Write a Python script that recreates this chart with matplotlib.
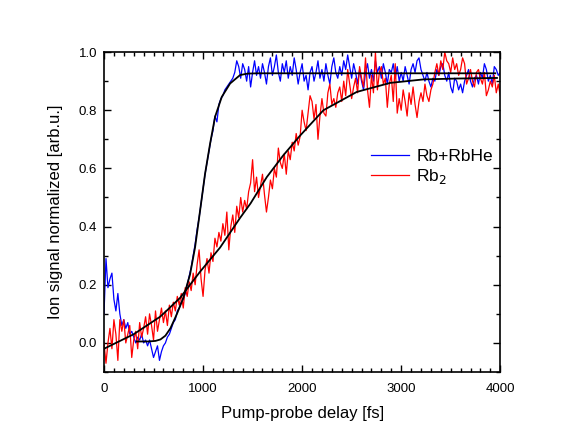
import matplotlib
matplotlib.use("Agg")
import matplotlib.pyplot as plt
import numpy as np
from matplotlib.ticker import MultipleLocator

plt.rcParams['font.family'] = ['Liberation Sans', 'DejaVu Sans']

# Datos: retardo en fs (paso de 20 fs)
delay = np.arange(0, 4001, 20)

rbhe = [
    0.10, 0.29, 0.19, 0.22, 0.24, 0.15, 0.11, 0.17, 0.10, 0.06,
    0.08, 0.05, 0.07, 0.03, 0.04, 0.02, 0.00, 0.02, 0.01, 0.03,
    0.00, 0.01, -0.01, 0.01, -0.02, -0.05, -0.03, -0.01, -0.06, -0.03,
    -0.01, 0.00, 0.02, 0.03, 0.05, 0.07, 0.08, 0.11, 0.12, 0.14,
    0.15, 0.17, 0.20, 0.23, 0.26, 0.30, 0.34, 0.39, 0.43, 0.48,
    0.53, 0.58, 0.62, 0.66, 0.70, 0.73, 0.78, 0.76, 0.82, 0.84,
    0.85, 0.87, 0.88, 0.89, 0.90, 0.91, 0.93, 0.97, 0.95, 0.91,
    0.96, 0.94, 0.90, 0.95, 0.88, 0.93, 0.97, 0.92, 0.95, 0.91,
    0.96, 0.93, 0.89, 0.95, 0.98, 0.92, 0.95, 0.99, 0.93, 0.90,
    0.96, 0.93, 0.97, 0.91, 0.95, 0.92, 0.98, 0.94, 0.89, 0.93,
    0.96, 0.90, 0.92, 0.87, 0.93, 0.95, 0.90, 0.93, 0.97, 0.91,
    0.94, 0.90, 0.96, 0.92, 0.89, 0.95, 0.98, 0.93, 0.91, 0.95,
    0.92, 0.97, 0.94, 0.99, 0.95, 0.91, 0.96, 0.93, 0.89, 0.94,
    0.90, 0.87, 0.93, 0.96, 0.91, 0.94, 0.90, 0.97, 0.93, 0.95,
    0.91, 0.96, 0.93, 0.89, 0.94, 0.93, 0.96, 0.91, 0.95, 0.90,
    0.93, 0.90, 0.95, 0.92, 0.89, 0.94, 0.96, 0.93, 0.97, 0.98,
    0.94, 0.92, 0.90, 0.93, 0.90, 0.88, 0.91, 0.90, 0.94, 0.92,
    0.95, 0.96, 0.92, 0.90, 0.93, 0.88, 0.86, 0.91, 0.90, 0.87,
    0.89, 0.86, 0.90, 0.92, 0.94, 0.90, 0.88, 0.91, 0.92, 0.89,
    0.93, 0.91, 0.96, 0.94, 0.90, 0.92, 0.89, 0.95, 0.94, 0.92,
    0.93,
]

rb2 = [
    0.00, -0.07, 0.00, 0.05, -0.02, 0.08, 0.03, -0.06, 0.08, 0.04,
    0.08, 0.00, 0.03, 0.06, -0.05, 0.01, 0.04, -0.02, 0.07, 0.02,
    0.05, 0.09, 0.03, 0.10, 0.06, 0.01, 0.11, 0.04, 0.08, 0.12,
    0.07, 0.11, 0.06, 0.13, 0.09, 0.14, 0.11, 0.16, 0.13, 0.17,
    0.12, 0.19, 0.16, 0.21, 0.18, 0.24, 0.20, 0.27, 0.32, 0.22,
    0.16, 0.25, 0.29, 0.24, 0.31, 0.28, 0.36, 0.33, 0.38, 0.35,
    0.41, 0.37, 0.45, 0.32, 0.40, 0.44, 0.38, 0.47, 0.43, 0.50,
    0.45, 0.49, 0.46, 0.52, 0.55, 0.63, 0.52, 0.57, 0.50, 0.54,
    0.58, 0.51, 0.45, 0.50, 0.56, 0.53, 0.60, 0.57, 0.67, 0.62,
    0.60, 0.65, 0.58, 0.66, 0.63, 0.69, 0.66, 0.72, 0.68, 0.71,
    0.80, 0.76, 0.73, 0.79, 0.85, 0.83, 0.77, 0.82, 0.70, 0.78,
    0.84, 0.79, 0.78, 0.86, 0.89, 0.82, 0.84, 0.81, 0.86, 0.88,
    0.83, 0.90, 0.85, 0.94, 0.89, 0.84, 0.88, 0.91, 0.86, 0.95,
    0.91, 0.88, 0.98, 0.87, 0.81, 0.92, 0.86, 1.00, 0.87, 0.93,
    0.95, 0.89, 0.91, 0.81, 0.89, 0.92, 0.83, 0.96, 0.79, 0.84,
    0.80, 0.87, 0.83, 0.78, 0.86, 0.82, 0.88, 0.82, 0.775, 0.83,
    0.86, 0.83, 0.89, 0.85, 0.83, 0.87, 0.89, 0.93, 0.96, 0.92,
    0.97, 0.94, 1.00, 0.97, 0.96, 0.93, 0.98, 0.94, 0.96, 0.92,
    0.94, 0.98, 0.96, 0.89, 0.91, 0.94, 0.90, 0.88, 0.93, 0.94,
    0.91, 0.89, 0.93, 0.85, 0.87, 0.90, 0.88, 0.92, 0.86, 0.89,
    0.85,
]

# Curvas de ajuste
fit_rbhe_x = [330, 450, 520, 570, 620, 670, 734, 801, 869, 919, 970, 1020,
              1071, 1121, 1189, 1273, 1374, 1450, 1550, 2000, 3000, 3950]
fit_rbhe_y = [0.005, 0.005, 0.007, 0.012, 0.025, 0.05, 0.098, 0.155, 0.236,
              0.328, 0.455, 0.581, 0.685, 0.777, 0.846, 0.892, 0.921, 0.926,
              0.927, 0.927, 0.927, 0.927]

fit_rb2_x = [0, 300, 566, 630, 768, 970, 1172, 1374, 1480, 1643, 1810, 1980,
             2215, 2552, 2889, 3225, 3562, 3967]
fit_rb2_y = [-0.02, 0.03, 0.09, 0.11, 0.155, 0.245, 0.328, 0.43, 0.48, 0.57,
             0.645, 0.713, 0.80, 0.863, 0.894, 0.906, 0.909, 0.911]

fig = plt.figure(figsize=(5.81, 4.45), dpi=100)
ax = fig.add_axes([0.179, 0.164, 0.682, 0.719])

ax.plot(delay, rbhe, color='#0000ff', lw=0.9, label='Rb+RbHe')
ax.plot(delay, rb2, color='#ff0000', lw=0.9, label='Rb$_2$')
ax.plot(fit_rbhe_x, fit_rbhe_y, color='black', lw=1.3)
ax.plot(fit_rb2_x, fit_rb2_y, color='black', lw=1.3)

ax.set_xlim(0, 4000)
ax.set_ylim(-0.1, 1.0)
ax.xaxis.set_major_locator(MultipleLocator(1000))
ax.xaxis.set_minor_locator(MultipleLocator(100))
ax.yaxis.set_major_locator(MultipleLocator(0.2))
ax.yaxis.set_minor_locator(MultipleLocator(0.1))
ax.yaxis.set_major_formatter(plt.FormatStrFormatter('%.1f'))
ax.tick_params(which='both', direction='in', top=True, right=True,
               labelsize=9.5, width=1)
ax.tick_params(which='major', length=5)
ax.tick_params(which='minor', length=3)
ax.tick_params(axis='x', pad=8)
ax.tick_params(axis='y', pad=5)
for s in ax.spines.values():
    s.set_linewidth(1.2)

ax.set_xlabel('Pump-probe delay [fs]', fontsize=12, labelpad=8)
ax.set_ylabel('Ion signal normalized [arb.u.]', fontsize=12, labelpad=11)

ax.legend(loc='upper left', bbox_to_anchor=(0.635, 0.745), frameon=False,
          fontsize=12.5, handlelength=2.2, handletextpad=0.4,
          labelspacing=0.15)

fig.savefig('out.png', dpi=100)
